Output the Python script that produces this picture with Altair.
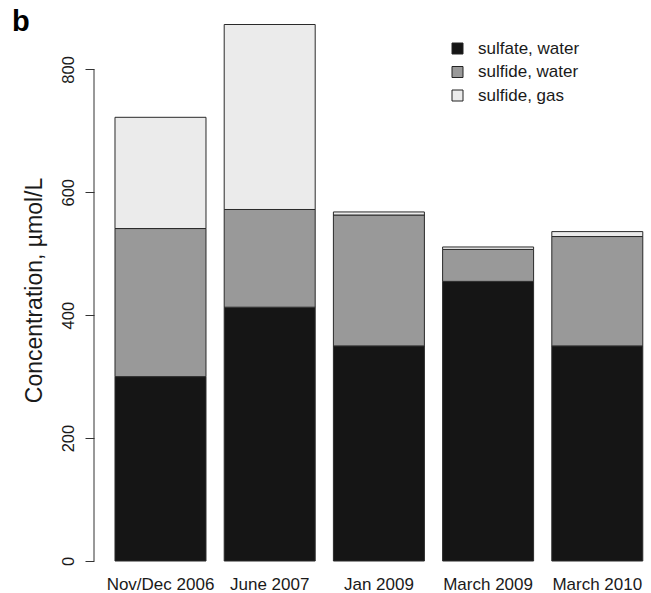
import altair as alt
import pandas as pd

# ---- data ----
dates = ["Nov/Dec 2006", "June 2007", "Jan 2009", "March 2009", "March 2010"]
sulfate_water = [300, 413, 350, 455, 350]
sulfide_water = [241, 159, 213, 52, 178]
sulfide_gas = [181, 301, 5, 4, 8]
series = ["sulfate, water", "sulfide, water", "sulfide, gas"]
colors = ["#151515", "#999999", "#ebebeb"]
y_ticks = [0, 200, 400, 600, 800]
panel = ["b"]

rows = []
for i, d in enumerate(dates):
    for j, (s, vals) in enumerate(zip(series, [sulfate_water, sulfide_water, sulfide_gas])):
        rows.append({"date": d, "series": s, "order": j, "value": vals[i]})
df = pd.DataFrame(rows)

FONT = "Liberation Sans"
FS = 17
TXT = "#1a1a1a"
ydomain = [0, 908]

y_axis = alt.Axis(values=y_ticks, title="Concentration, µmol/L", domain=False,
                  grid=False, tickSize=9, tickColor="#333333", labelAngle=-90,
                  labelAlign="center", labelBaseline="bottom", labelPadding=9,
                  labelFontSize=16.5, labelFont=FONT, labelColor=TXT,
                  titleFont=FONT, titleFontSize=23, titleFontWeight="normal",
                  titleColor=TXT, titleX=-48, titleY=287, titleAngle=-90,
                  titleBaseline="bottom")
y_scale = alt.Scale(domain=ydomain, nice=False, zero=True)

bars = alt.Chart(df).mark_bar(stroke="#2a2a2a", strokeWidth=1).encode(
    x=alt.X(
        "date:N", sort=dates,
        scale=alt.Scale(paddingInner=0.1667, paddingOuter=0.1337, align=0.719),
        axis=alt.Axis(title=None, domain=False, ticks=False, labelAngle=0,
                      labelPadding=15.7, labelFontSize=FS, labelFont=FONT,
                      labelColor=TXT),
    ),
    y=alt.Y("value:Q", stack="zero", scale=y_scale, axis=y_axis),
    color=alt.Color(
        "series:N",
        scale=alt.Scale(domain=series, range=colors),
        legend=alt.Legend(title=None, orient="none", legendX=355, legendY=37,
                          symbolType="square", symbolSize=121,
                          symbolStrokeColor="#222222", symbolStrokeWidth=1,
                          symbolOpacity=1,
                          labelFontSize=FS, labelFont=FONT, labelColor=TXT,
                          labelOffset=12, rowPadding=5.5, padding=0),
    ),
    order=alt.Order("order:Q", sort="ascending"),
)

rule_df = pd.DataFrame({"lo": [min(y_ticks)], "hi": [max(y_ticks)]})
axis_line = alt.Chart(rule_df).mark_rule(color="#333333", strokeWidth=1).encode(
    x=alt.value(0),
    y=alt.Y("lo:Q", scale=y_scale, axis=y_axis),
    y2="hi:Q",
)

label = alt.Chart(pd.DataFrame({"t": panel})).mark_text(
    font=FONT, fontSize=29, fontWeight="bold", color="#000000",
    align="left", baseline="alphabetic",
).encode(text="t:N", x=alt.value(-82), y=alt.value(28))

chart = alt.layer(bars, axis_line, label).properties(
    width=557, height=558,
    padding={"left": 94, "top": 3, "right": 0, "bottom": 32},
    autosize="none",
).configure(background="white").configure_view(stroke=None)

chart.save("out.html", embed_options={"renderer": "svg", "actions": False})
